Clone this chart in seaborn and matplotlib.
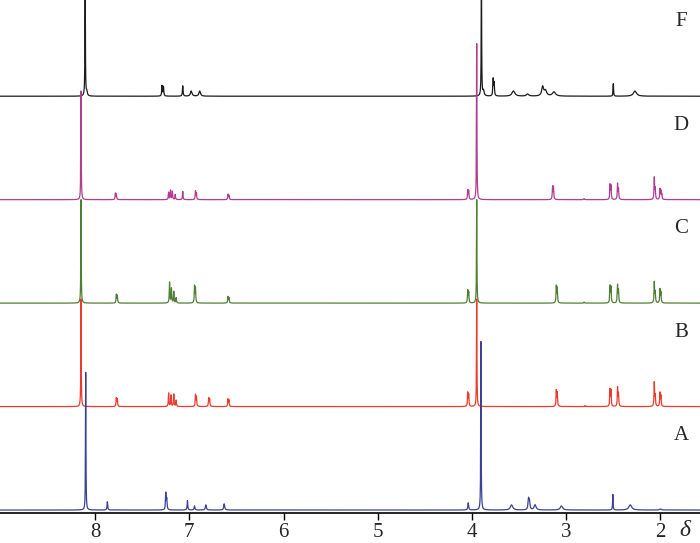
import numpy as np
import pandas as pd
import matplotlib
matplotlib.use("Agg")
import matplotlib.pyplot as plt
import seaborn as sns

# --- peak tables (shift in ppm, height in units of trace spacing) ---
labels = ["A", "B", "C", "D", "F"]
colors = ["#3b4296", "#ec3b2c", "#4f7f34", "#b23c90", "#1c1c1c"]

a_shift = [8.100, 7.870, 7.250, 7.240, 7.020, 6.945, 6.825, 6.630, 4.040, 3.905,
           3.580, 3.400, 3.390, 3.330, 3.050, 2.505, 2.320, 2.000]
a_height = [1.33, 0.08, 0.16, 0.10, 0.09, 0.04, 0.05, 0.06, 0.07, 1.63,
            0.05, 0.10, 0.08, 0.05, 0.04, 0.15, 0.05, 0.01]
a_width = [0.0025, 0.004, 0.004, 0.004, 0.004, 0.005, 0.006, 0.006, 0.005, 0.0025,
           0.015, 0.006, 0.006, 0.012, 0.015, 0.003, 0.018, 0.01]

b_shift = [8.150, 7.775, 7.765, 7.220, 7.195, 7.165, 7.140, 6.935, 6.925, 6.795,
           6.785, 6.590, 6.580, 4.045, 4.035, 3.950, 3.105, 3.095, 2.800, 2.535,
           2.525, 2.455, 2.445, 2.065, 2.055, 2.005, 1.995]
b_height = [1.04, 0.08, 0.07, 0.13, 0.11, 0.12, 0.06, 0.11, 0.09, 0.08,
            0.07, 0.07, 0.06, 0.13, 0.11, 1.04, 0.15, 0.13, 0.01, 0.16,
            0.15, 0.18, 0.12, 0.23, 0.10, 0.13, 0.10]

c_shift = [8.150, 7.775, 7.765, 7.210, 7.190, 7.165, 7.140, 6.945, 6.935, 6.590,
           6.580, 4.045, 4.035, 3.950, 3.105, 3.095, 2.810, 2.535, 2.525, 2.455,
           2.445, 2.065, 2.055, 2.005, 1.995]
c_height = [1.00, 0.08, 0.07, 0.20, 0.14, 0.11, 0.05, 0.16, 0.14, 0.06,
            0.05, 0.12, 0.10, 1.00, 0.16, 0.14, 0.01, 0.16, 0.15, 0.17,
            0.12, 0.20, 0.10, 0.13, 0.10]

d_shift = [8.150, 7.785, 7.775, 7.220, 7.200, 7.180, 7.150, 7.070, 6.935, 6.925,
           6.590, 6.580, 4.045, 4.035, 3.950, 3.145, 3.135, 2.810, 2.535, 2.525,
           2.455, 2.445, 2.065, 2.055, 2.005, 1.995, 1.985]
d_height = [1.05, 0.06, 0.05, 0.07, 0.09, 0.08, 0.05, 0.08, 0.08, 0.06,
            0.05, 0.04, 0.09, 0.08, 1.51, 0.12, 0.12, 0.01, 0.14, 0.13,
            0.15, 0.10, 0.21, 0.10, 0.10, 0.08, 0.05]

f_shift = [8.106, 8.088, 7.290, 7.275, 7.070, 6.980, 6.890, 3.900, 3.878, 3.775,
           3.765, 3.560, 3.410, 3.250, 3.220, 3.130, 2.500, 2.270]
f_height = [1.30, 0.04, 0.10, 0.09, 0.10, 0.05, 0.05, 1.30, 0.05, 0.16,
            0.12, 0.05, 0.02, 0.09, 0.05, 0.04, 0.12, 0.05]
f_width = [0.0025, 0.006, 0.004, 0.004, 0.004, 0.010, 0.010, 0.0025, 0.008, 0.004,
           0.004, 0.018, 0.015, 0.012, 0.015, 0.02, 0.003, 0.02]

tick_values = [8, 7, 6, 5, 4, 3, 2]


def spectrum(ppm, shifts, heights, widths=None):
    """Lorentzian lines summed from a peak table."""
    if widths is None:
        # tall singlets get a narrower line so their foot stays small
        widths = [0.0025 if h > 0.5 else 0.0035 for h in heights]
    y = np.zeros_like(ppm)
    for x0, h, g in zip(shifts, heights, widths):
        y += h * g ** 2 / ((ppm - x0) ** 2 + g ** 2)
    return y


ppm = np.linspace(1.5, 9.1, 40000)
tables = [
    (a_shift, a_height, a_width),
    (b_shift, b_height, None),
    (c_shift, c_height, None),
    (d_shift, d_height, None),
    (f_shift, f_height, f_width),
]

frames = []
for i, (lab, (s, h, w)) in enumerate(zip(labels, tables)):
    frames.append(pd.DataFrame({"ppm": ppm,
                                "y": spectrum(ppm, s, h, w) + i,
                                "trace": lab}))
df = pd.concat(frames, ignore_index=True)

# --- drawing ---
sns.set_theme(style="white")
plt.rcParams["font.family"] = ["Liberation Serif", "DejaVu Serif"]

fig = plt.figure(figsize=(7.0, 5.43), dpi=100)
ax = fig.add_axes([0.0, 0.0552, 1.0, 0.9448])

# top trace first so the lower ones sit on top where they cross
for lab, col in zip(labels[::-1], colors[::-1]):
    sns.lineplot(data=df[df["trace"] == lab], x="ppm", y="y", ax=ax,
                 color=col, linewidth=0.9, estimator=None, sort=False)

ax.set_xlim(9.01, 1.58)
ax.set_ylim(-0.029, 4.93)

for i, lab in enumerate(labels):
    ax.text(1.78, i + 0.72, lab, fontsize=15, ha="center", va="center")

for side in ["left", "right", "top"]:
    ax.spines[side].set_visible(False)
ax.spines["bottom"].set_color("black")
ax.spines["bottom"].set_linewidth(1.2)
ax.set_yticks([])
ax.set_xticks(tick_values)
ax.set_xticklabels([str(t) for t in tick_values])
ax.tick_params(axis="x", direction="out", length=5, width=1, color="black",
               labelsize=15, pad=2, bottom=True)
ax.set_xlabel("")
ax.set_ylabel("")
ax.text(1.745, -0.013, "δ", fontsize=17, style="italic", ha="center", va="top",
        transform=ax.get_xaxis_transform(), clip_on=False)

plt.savefig("out.png", dpi=100)
